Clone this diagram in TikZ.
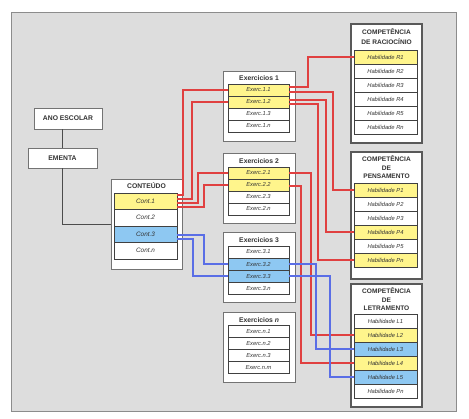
\documentclass[tikz,border=0pt]{standalone}
\usepackage{fontspec}
\setmainfont{Liberation Sans}
\usetikzlibrary{positioning}
\definecolor{itemyellow}{HTML}{FFF58C}
\definecolor{itemblue}{HTML}{8EC8F2}
\definecolor{linkred}{HTML}{E04040}
\definecolor{linkblue}{HTML}{5A6EE6}
\definecolor{paper}{HTML}{DDDDDD}

\begin{document}
\begin{tikzpicture}[x=1bp, y=-1bp,
  grp/.style={draw=black!55, fill=white, line width=0.9bp, inner sep=0pt},
  comp/.style={draw=black!65, fill=white, line width=1.5bp, inner sep=0pt, minimum width=71bp},
  ttl/.style={font=\fontsize{6.8}{8.5}\selectfont\bfseries, text=black!80, align=center, inner sep=0pt},
  item/.style={draw=black!75, line width=0.5bp, inner sep=0pt, outer sep=0pt, text=black!80,
    font=\fontsize{5.8}{6}\selectfont\itshape},
  lnk/.style={line width=2bp, draw=linkred},
  lnkb/.style={line width=2bp, draw=linkblue},
  trunk/.style={line width=1.2bp, black!70}]
  \useasboundingbox (0,0) rectangle (469,418);
  \fill[white] (0,0) rectangle (469,418);
  \filldraw[fill=paper, draw=black!45, line width=0.8bp] (11,12) rectangle (456,411);

  \node[grp, ttl, minimum width=68bp, minimum height=21bp] (ano) at (68,118.5) {ANO ESCOLAR};
  \node[grp, ttl, minimum width=69bp, minimum height=20bp] (ementa) at (62.5,158) {EMENTA};

  % conteudo
  \node[grp, minimum width=71bp, minimum height=90bp] (cont) at (146.5,224.5) {};
  \node[ttl] (contt) at (146.5,186) {CONTEÚDO};
  \foreach \k/\c [count=\j] in {1/itemyellow, 2/white, 3/itemblue, n/white}
    \node[item, fill=\c, minimum width=63bp, minimum height=16.5bp, font=\fontsize{6.4}{7}\selectfont\itshape]
      (c\k) at (145.5,184.5+16.5*\j) {Cont.\k};

  % exercicios
  \foreach \g/\y in {1/71, 2/153, 3/232, n/312}
    \node[grp, minimum width=72bp, minimum height=70bp] (ex\g) at (259,\y+35) {};
  \node[ttl] (ex1t) at (259,78.5) {Exercicios 1};
  \node[ttl] (ex2t) at (259,161) {Exercicios 2};
  \node[ttl] (ex3t) at (259,240) {Exercicios 3};
  \node[ttl] (exnt) at (259,320) {Exercicios \textit{n}};
  \foreach \g/\y/\ca/\cb/\cc in {1/90/itemyellow/itemyellow/white, 2/173/itemyellow/itemyellow/white,
      3/252/white/itemblue/itemblue}
    \foreach \k/\c [count=\j] in {1/\ca, 2/\cb, 3/\cc, n/white}
      \node[item, fill=\c, minimum width=61bp, minimum height=12bp]
        (e\g\k) at (258.5,\y-12+12*\j) {Exerc.\g.\k};
  \foreach \k [count=\j] in {1, 2, 3, m}
    \node[item, fill=white, minimum width=61bp, minimum height=12bp]
      (en\k) at (258.5,319.5+12*\j) {Exerc.n.\k};

  % competencias
  \node[comp, minimum height=119bp] (compr) at (386.5,83.5) {};
  \node[ttl, font=\fontsize{6.6}{10}\selectfont\bfseries] (comprt) at (386.5,37) {COMPETÊNCIA\\DE RACIOCÍNIO};
  \node[comp, minimum height=127bp] (compp) at (386.5,215.5) {};
  \node[ttl, font=\fontsize{6.6}{8.6}\selectfont\bfseries] (comppt) at (386.5,167.5) {COMPETÊNCIA\\DE\\PENSAMENTO};
  \node[comp, minimum height=123bp] (compl) at (386.5,345.5) {};
  \node[ttl, font=\fontsize{6.6}{8.6}\selectfont\bfseries] (complt) at (386.5,299.5) {COMPETÊNCIA\\DE\\LETRAMENTO};
  \foreach \k/\c [count=\j] in {1/itemyellow, 2/white, 3/white, 4/white, 5/white, n/white}
    \node[item, fill=\c, minimum width=63bp, minimum height=14bp] (r\k) at (385.5,43+14*\j) {Habilidade R\k};
  \foreach \k/\c [count=\j] in {1/itemyellow, 2/white, 3/white, 4/itemyellow, 5/white, n/itemyellow}
    \node[item, fill=\c, minimum width=63bp, minimum height=14bp] (p\k) at (385.5,176+14*\j) {Habilidade P\k};
  \foreach \k/\t/\c [count=\j] in {1/L1/white, 2/L2/itemyellow, 3/L3/itemblue, 4/L4/itemyellow, 5/L5/itemblue, n/Pn/white}
    \node[item, fill=\c, minimum width=63bp, minimum height=14bp] (l\k) at (385.5,307+14*\j) {Habilidade \t};

  \draw[trunk] (ementa.north) -- (ementa.north |- ano.south);
  \draw[trunk] (ementa.south) |- (cont.west);

  \draw[lnk] ([yshift=6bp]c1.east) -| ([xshift=-45bp]e11.west) -- (e11.west);
  \draw[lnk] ([yshift=2bp]c1.east) -| ([xshift=-36bp]e12.west) -- (e12.west);
  \draw[lnk] ([yshift=-2bp]c1.east) -| ([xshift=-30bp]e21.west) -- (e21.west);
  \draw[lnk] ([yshift=-6bp]c1.east) -| ([xshift=-24bp]e22.west) -- (e22.west);
  \draw[lnkb] ([yshift=-1bp]c3.east) -| ([xshift=-24bp]e32.west) -- (e32.west);
  \draw[lnkb] ([yshift=-5bp]c3.east) -| ([xshift=-35bp]e33.west) -- (e33.west);

  \draw[lnk] ([yshift=3bp]e11.east) -| ([xshift=-46bp]r1.west) -- (r1.west);
  \draw[lnk] ([yshift=-2bp]e11.east) -| ([xshift=-21bp]p1.west) -- (p1.west);
  \draw[lnk] ([yshift=2bp]e12.east) -| ([xshift=-28bp]p4.west) -- (p4.west);
  \draw[lnk] ([yshift=-2bp]e12.east) -| ([xshift=-36bp]pn.west) -- (pn.west);
  \draw[lnk] (e21.east) -| ([xshift=-43bp]l2.west) -- (l2.west);
  \draw[lnk] ([yshift=-1bp]e22.east) -| ([xshift=-53bp]l4.west) -- (l4.west);
  \draw[lnkb] (e32.east) -| ([xshift=-38bp]l3.west) -- (l3.west);
  \draw[lnkb] (e33.east) -| ([xshift=-24bp]l5.west) -- (l5.west);
\end{tikzpicture}
\end{document}
